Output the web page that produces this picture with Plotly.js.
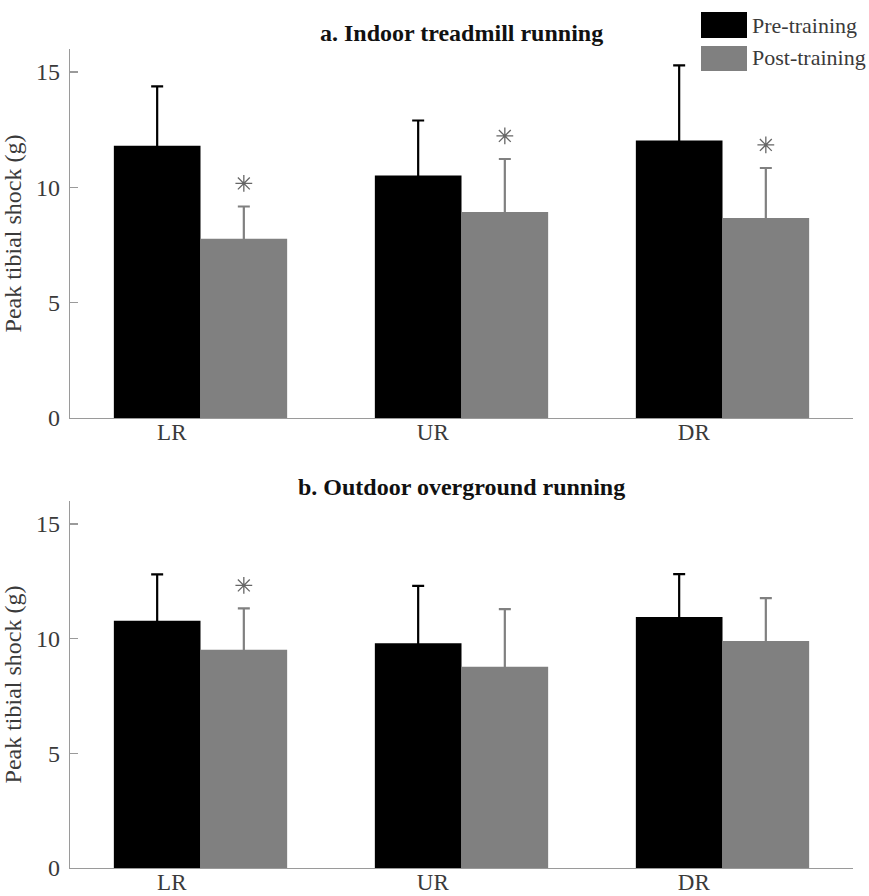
<!DOCTYPE html>
<html>
<head>
<meta charset="utf-8">
<script src="https://cdn.plot.ly/plotly-3.0.1.min.js"></script>
<style>
  html, body { margin: 0; padding: 0; background: #fff; }
  #chart { width: 869px; height: 896px; }
</style>
</head>
<body>
<div id="chart"></div>
<script>
// Running conditions
const categories = ['LR', 'UR', 'DR'];

// a. Indoor treadmill running: mean and SD of peak tibial shock (g)
const indoorPre = [11.81, 10.52, 12.03];
const indoorPreSD = [2.57, 2.38, 3.26];
const indoorPost = [7.77, 8.93, 8.67];
const indoorPostSD = [1.40, 2.30, 2.17];
const indoorSignificant = [true, true, true];

// b. Outdoor overground running
const outdoorPre = [10.78, 9.80, 10.94];
const outdoorPreSD = [2.02, 2.50, 1.87];
const outdoorPost = [9.52, 8.77, 9.90];
const outdoorPostSD = [1.80, 2.52, 1.87];
const outdoorSignificant = [true, false, false];

const yTicks = [0, 5, 10, 15];

// layout geometry (pixels)
const W = 869, H = 896;
const mL = 70, mR = 16, mT = 49, mB = 28;
const plotW = W - mL - mR, plotH = H - mT - mB;
const px2x = px => (px - mL) / plotW;
const px2y = py => (H - mB - py) / plotH;

const BLACK = '#000000';
const GREY = '#808080';
const AXIS = '#9a9a9a';
const TEXT = '#3a3a3a';
const FONT = 'Liberation Serif, Times New Roman, serif';

const barW = 0.332;
const off = barW / 2;
const pos = categories.map((c, i) => i + 1);

function panelTraces(pre, preSD, post, postSD, sig, xa, ya) {
  const base = { type: 'bar', width: barW, xaxis: xa, yaxis: ya, showlegend: false, hoverinfo: 'skip' };
  // upper whisker only; the short lower part stays hidden inside the bar
  const preTrace = Object.assign({}, base, {
    x: pos.map(p => p - off), y: pre,
    marker: { color: BLACK, line: { width: 0 } },
    error_y: { type: 'data', symmetric: false, array: preSD, arrayminus: preSD.map(() => 0.3),
               color: BLACK, thickness: 2.2, width: 6 }
  });
  const postTrace = Object.assign({}, base, {
    x: pos.map(p => p + off), y: post,
    marker: { color: GREY, line: { width: 0 } },
    error_y: { type: 'data', symmetric: false, array: postSD, arrayminus: postSD.map(() => 0.3),
               color: GREY, thickness: 2.2, width: 6 }
  });
  const sx = [], sy = [];
  sig.forEach((s, i) => { if (s) { sx.push(pos[i] + off); sy.push(post[i] + postSD[i] + 1.0); } });
  const stars = {
    type: 'scatter', mode: 'markers', x: sx, y: sy, xaxis: xa, yaxis: ya,
    showlegend: false, hoverinfo: 'skip',
    marker: { symbol: 'asterisk-open', size: 14, color: '#666', line: { color: '#666', width: 1.3 } }
  };
  return [preTrace, postTrace, stars];
}

const data = [].concat(
  panelTraces(indoorPre, indoorPreSD, indoorPost, indoorPostSD, indoorSignificant, 'x', 'y'),
  panelTraces(outdoorPre, outdoorPreSD, outdoorPost, outdoorPostSD, outdoorSignificant, 'x2', 'y2')
);

const xAxisBase = {
  range: [0.5, 3.5], showgrid: false, zeroline: false,
  showline: true, linecolor: AXIS, linewidth: 1.2,
  tickvals: pos.map(p => p - 0.11), ticktext: categories, ticks: '',
  tickfont: { family: FONT, size: 23, color: TEXT }, ticklabelstandoff: -7, fixedrange: true
};
const yAxisBase = {
  range: [0, 16], showgrid: false, zeroline: false,
  showline: true, linecolor: AXIS, linewidth: 1.2,
  tickvals: yTicks, ticks: 'inside', ticklen: 8, tickcolor: AXIS, tickwidth: 1.2,
  tickfont: { family: FONT, size: 24, color: TEXT }, ticklabelstandoff: 4,
  title: { text: 'Peak tibial shock (g)', font: { family: FONT, size: 24, color: TEXT }, standoff: 8 },
  fixedrange: true
};

const topDom = [px2y(418), 1];
const botDom = [0, px2y(501)];

const layout = {
  width: W, height: H,
  margin: { l: mL, r: mR, t: mT, b: mB },
  paper_bgcolor: '#fff', plot_bgcolor: '#fff',
  showlegend: false,
  xaxis: Object.assign({}, xAxisBase, { domain: [0, 1], anchor: 'y' }),
  yaxis: Object.assign({}, yAxisBase, { domain: topDom, anchor: 'x' }),
  xaxis2: Object.assign({}, xAxisBase, { domain: [0, 1], anchor: 'y2' }),
  yaxis2: Object.assign({}, yAxisBase, { domain: botDom, anchor: 'x2' }),
  shapes: [
    { type: 'rect', xref: 'paper', yref: 'paper', x0: px2x(701), x1: px2x(747), y0: px2y(38), y1: px2y(12),
      fillcolor: BLACK, line: { width: 0 } },
    { type: 'rect', xref: 'paper', yref: 'paper', x0: px2x(701), x1: px2x(747), y0: px2y(71), y1: px2y(46),
      fillcolor: GREY, line: { width: 0 } }
  ],
  annotations: [
    { text: '<b>a. Indoor treadmill running</b>', xref: 'paper', yref: 'paper', x: 0.5, y: px2y(33),
      xanchor: 'center', yanchor: 'middle', showarrow: false, font: { family: FONT, size: 24, color: '#111' } },
    { text: '<b>b. Outdoor overground running</b>', xref: 'paper', yref: 'paper', x: 0.5, y: px2y(487),
      xanchor: 'center', yanchor: 'middle', showarrow: false, font: { family: FONT, size: 24, color: '#111' } },
    { text: 'Pre-training', xref: 'paper', yref: 'paper', x: px2x(750), y: px2y(25),
      xanchor: 'left', yanchor: 'middle', showarrow: false, font: { family: FONT, size: 22, color: TEXT } },
    { text: 'Post-training', xref: 'paper', yref: 'paper', x: px2x(750), y: px2y(58),
      xanchor: 'left', yanchor: 'middle', showarrow: false, font: { family: FONT, size: 22, color: TEXT } }
  ]
};

Plotly.newPlot('chart', data, layout, { staticPlot: true, displayModeBar: false });
</script>
</body>
</html>
